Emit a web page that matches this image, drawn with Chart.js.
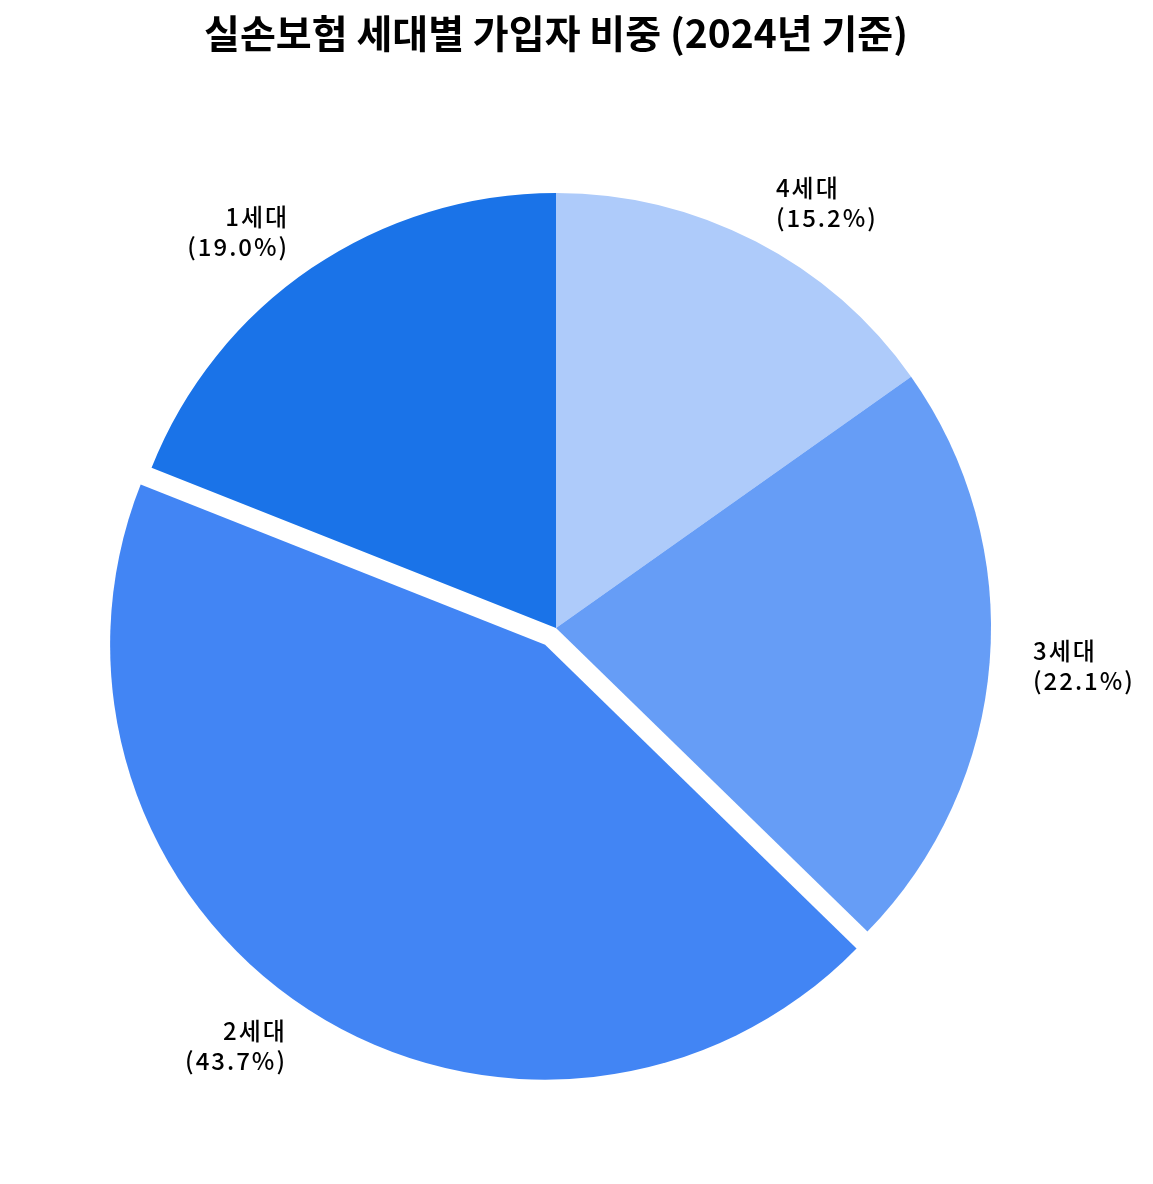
<!DOCTYPE html>
<html>
<head>
<meta charset="utf-8">
<script src="https://cdn.jsdelivr.net/npm/chart.js@4"></script>
<style>
  html, body { margin: 0; padding: 0; background: #fff; }
  #wrap { width: 1153px; height: 1184px; position: relative; }
</style>
</head>
<body>
<div id="wrap"><canvas id="chart"></canvas></div>
<script>
// data, in the order of the legend of the original
var generations = ["1세대", "2세대", "3세대", "4세대"];
var shares = [19.0, 43.7, 22.1, 15.2];
var sliceColors = ["#1a73e8", "#4285f4", "#669df6", "#aecbfa"];
var explode = [0, 0.046, 0, 0]; // fraction of the radius

// the original runs counter-clockwise from the top, Chart.js runs clockwise,
// so feed the slices in reverse
var order = [3, 2, 1, 0];

// Chart.js "offset" also grows the radius of the slice, so push the
// exploded slice out by hand instead
var explodeSlices = {
    id: "explodeSlices",
    afterDatasetUpdate: function (chart, args) {
        var meta = args.meta;
        meta.data.forEach(function (arc, i) {
            var ex = explode[order[i]];
            if (!ex || arc._wrapped) return;
            var draw = arc.draw;
            arc.draw = function (c) {
                var mid = (this.startAngle + this.endAngle) / 2;
                var d = ex * this.outerRadius;
                c.save();
                c.translate(Math.cos(mid) * d, Math.sin(mid) * d);
                draw.apply(this, arguments);
                c.restore();
            };
            arc._wrapped = true;
        });
    }
};

var outsideLabels = {
    id: "outsideLabels",
    afterDatasetsDraw: function (chart) {
        var ctx = chart.ctx;
        var meta = chart.getDatasetMeta(0);
        ctx.save();
        ctx.fillStyle = "#000";
        ctx.font = "500 24px 'Noto Sans CJK KR'";
        ctx.textBaseline = "middle";
        if ("letterSpacing" in ctx) ctx.letterSpacing = "2px";
        meta.data.forEach(function (arc, i) {
            var p = arc.getProps(["x", "y", "startAngle", "endAngle", "outerRadius"], true);
            var k = order[i];
            var mid = (p.startAngle + p.endAngle) / 2;
            var dist = p.outerRadius * (1.1 + explode[k]);
            var lx = p.x + Math.cos(mid) * dist;
            var ly = p.y + Math.sin(mid) * dist;
            var right = lx < p.x;
            ctx.textAlign = right ? "right" : "left";
            var sx = right ? 2 : 0; // letter spacing trails the last glyph
            ctx.fillText(generations[k], lx + sx, ly - 15);
            ctx.fillText("(" + shares[k].toFixed(1) + "%)", lx + sx, ly + 15);
        });
        ctx.restore();
    }
};

var ctx = document.getElementById("chart").getContext("2d");
var myChart = new Chart(ctx, {
    type: "pie",
    data: {
        labels: order.map(function (k) { return generations[k]; }),
        datasets: [{
            data: order.map(function (k) { return shares[k]; }),
            backgroundColor: order.map(function (k) { return sliceColors[k]; }),
            borderWidth: 0,
            hoverOffset: 0
        }]
    },
    options: {
        responsive: true,
        maintainAspectRatio: false,
        animation: { duration: 0 },
        layout: {
            padding: { left: 121, right: 162, top: 0, bottom: 121 }
        },
        plugins: {
            legend: { display: false },
            tooltip: { enabled: false },
            title: {
                display: true,
                text: "실손보험 세대별 가입자 비중 (2024년 기준)",
                color: "#000",
                font: { family: "'Noto Sans CJK KR'", size: 39, weight: "bold", lineHeight: 1.2 },
                padding: { top: 10, bottom: 136 }
            }
        }
    },
    plugins: [explodeSlices, outsideLabels]
});
</script>
</body>
</html>
